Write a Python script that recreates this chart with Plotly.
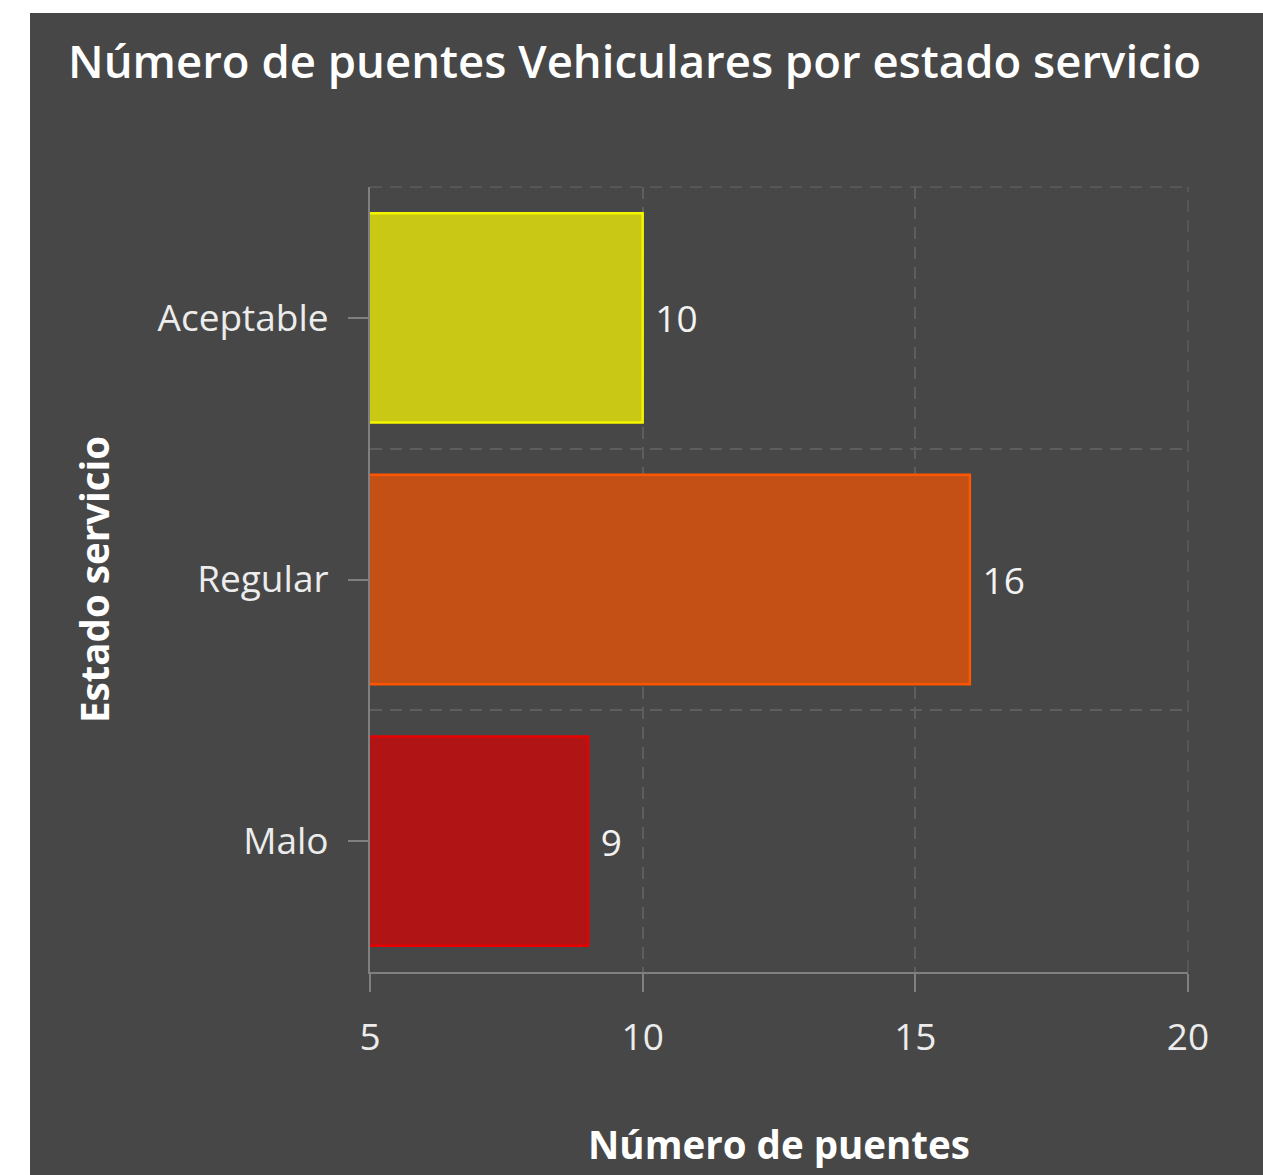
import plotly.graph_objs as go

# Puentes vehiculares por estado de servicio
categories = ['Aceptable', 'Regular', 'Malo']
counts = [10, 16, 9]
fill_colors = ['#C9C814', '#C55015', '#B11414']
line_colors = ['#F5F500', '#FF5500', '#E60000']
x_ticks = [5, 10, 15, 20]

positions = list(range(len(categories)))

bg = '#474747'
grid = '#5e5e5e'
font_family = 'Open Sans, Noto Sans, sans-serif'

trace = go.Bar(
    x=counts,
    y=positions,
    orientation='h',
    width=0.8,
    marker=dict(color=fill_colors, line=dict(color=line_colors, width=2.5)),
    texttemplate=' %{x}',
    textposition='outside',
    textfont=dict(color='#f2f2f2', size=37, family=font_family),
    cliponaxis=False,
    hoverinfo='x+y',
)

layout = go.Layout(
    width=1263,
    height=1175,
    paper_bgcolor='white',
    plot_bgcolor=bg,
    margin=dict(l=370, r=75, t=187, b=203),
    showlegend=False,
    title=dict(
        text='Número de puentes Vehiculares por estado servicio',
        font=dict(color='white', size=45.5, family=font_family, weight=600),
        x=68 / 1263, xanchor='left', xref='container',
        y=1 - 62 / 1175, yanchor='middle', yref='container',
    ),
    xaxis=dict(
        range=[5, 20],
        tickvals=x_ticks,
        showgrid=True, gridcolor=grid, griddash='12px,8px', gridwidth=1.5,
        showline=True, linecolor='#808080', linewidth=2,
        ticks='outside', ticklen=18, tickcolor='#808080', tickwidth=2,
        ticklabelstandoff=14,
        tickfont=dict(color='#ececec', size=37, family=font_family),
        zeroline=False,
        title=dict(text='Número de puentes',
                   font=dict(color='white', size=38.5, family=font_family, weight=700),
                   standoff=72),
    ),
    yaxis=dict(
        range=[2.5, -0.5],
        tickvals=positions,
        ticktext=categories,
        showgrid=False,
        minor=dict(tick0=0.5, dtick=1, showgrid=True, gridcolor=grid,
                   griddash='12px,8px', gridwidth=1.5, ticks=''),
        showline=True, linecolor='#808080', linewidth=2,
        ticks='outside', ticklen=20, tickcolor='#808080', tickwidth=2,
        ticklabelstandoff=12,
        tickfont=dict(color='#ececec', size=37, family=font_family),
        zeroline=False,
        title=dict(text='Estado servicio',
                   font=dict(color='white', size=38.5, family=font_family, weight=700),
                   standoff=36),
    ),
    shapes=[
        # fondo oscuro del panel
        dict(type='rect', xref='paper', yref='paper', layer='below',
             x0=(30 - 370) / 818, x1=(1263 - 370) / 818,
             y0=(972 - 1175) / 785, y1=(972 - 13) / 785,
             fillcolor=bg, line=dict(width=0)),
        # borde superior y derecho punteado del area de trazado
        dict(type='line', xref='paper', yref='paper', layer='below',
             x0=0, x1=1, y0=1, y1=1,
             line=dict(color=grid, width=1.5, dash='12px,8px')),
        dict(type='line', xref='paper', yref='paper', layer='below',
             x0=1, x1=1, y0=0, y1=1,
             line=dict(color=grid, width=1.5, dash='12px,8px')),
    ],
)

fig = go.Figure(data=[trace], layout=layout)
fig.write_html('out.html', config={'displayModeBar': False},
               post_script="document.body.style.margin='0';")
